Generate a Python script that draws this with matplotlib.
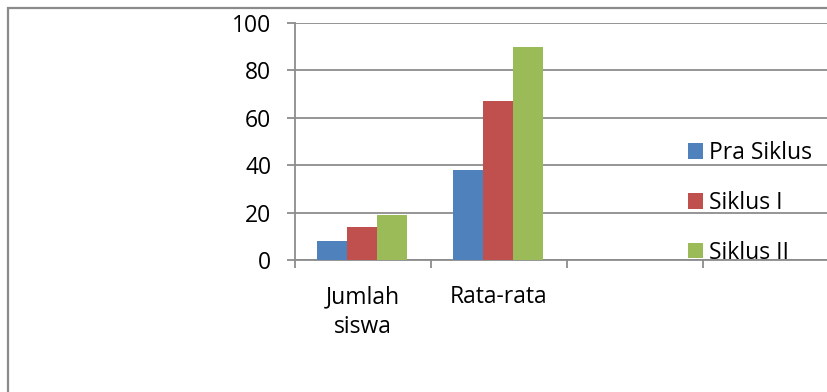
import matplotlib
matplotlib.use("Agg")
import matplotlib.pyplot as plt
from matplotlib.patches import Rectangle, Patch
import numpy as np

# Chart data
categories = ["Jumlah\nsiswa", "Rata-rata", "", ""]
series_names = ["Pra Siklus", "Siklus I", "Siklus II"]
pra_siklus = [8, 38]
siklus_1 = [14, 67]
siklus_2 = [19, 90]
y_ticks = [0, 20, 40, 60, 80, 100]

colors = ["#4F81BD", "#C0504D", "#9BBB59"]
grid_color = "#8C8C8C"

plt.rcParams["font.family"] = ["Open Sans", "DejaVu Sans"]
FS = 16.5

W, H = 827, 392
fig = plt.figure(figsize=(W / 100, H / 100), dpi=100)
fig.patch.set_facecolor("white")

# Outer chart frame (left and top edges visible)
fig.patches.append(Rectangle((7.5 / W, -0.5), 2.0, 1.5 - 7.5 / H,
                             transform=fig.transFigure, fill=False,
                             edgecolor="#8A8A8A", linewidth=1.6))

left, right = 295 / W, 839 / W
bottom, top = 1 - 260 / H, 1 - 23 / H
ax = fig.add_axes([left, bottom, right - left, top - bottom])
ax.set_facecolor("none")

bar_w = 0.22
offsets = [-bar_w, 0.0, bar_w]
x = np.arange(len(pra_siklus)) + 0.493
for vals, off, c in zip([pra_siklus, siklus_1, siklus_2], offsets, colors):
    ax.bar(x + off, vals, width=bar_w, color=c, edgecolor="none", zorder=3)

ax.set_xlim(0, len(categories))
ax.set_ylim(0, 100)

# Gridlines and axes
ax.set_yticks(y_ticks)
ax.yaxis.grid(True, color=grid_color, linewidth=1.3, zorder=0)
ax.set_axisbelow(True)
for s in ["top", "right"]:
    ax.spines[s].set_visible(False)
for s in ["left", "bottom"]:
    ax.spines[s].set_color(grid_color)
    ax.spines[s].set_linewidth(1.3)

ax.tick_params(axis="y", direction="out", length=6, width=1.3,
               color=grid_color, labelsize=FS, pad=11, labelcolor="black")
ax.set_xticks(np.arange(len(categories) + 1))
ax.set_xticklabels([])
ax.set_xticks(np.arange(len(categories)) + 0.5, minor=True)
ax.set_xticklabels(categories, minor=True, fontsize=FS, linespacing=1.35)
ax.tick_params(axis="x", which="minor", length=0, pad=18)
ax.tick_params(axis="x", which="major", direction="out", length=6, width=1.3,
               color=grid_color)

handles = [Patch(facecolor=c, edgecolor="none") for c in colors]
ax.legend(handles, series_names, loc="center left",
          bbox_to_anchor=((688 - 295) / (839 - 295), (260 - 203) / (260 - 23)),
          frameon=False, fontsize=FS, handlelength=0.65, handleheight=0.65,
          handletextpad=0.25, labelspacing=1.13, borderpad=0, borderaxespad=0)

fig.savefig("out.png", dpi=100, facecolor="white")
